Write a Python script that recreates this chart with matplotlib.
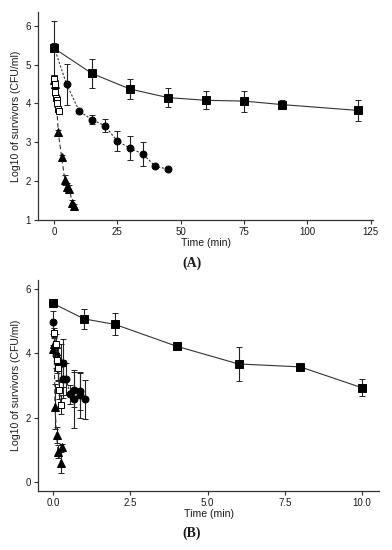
import matplotlib

matplotlib.use("Agg")
import matplotlib.pyplot as plt


# panel A (time in min)
sq_a_t = [0, 15, 30, 45, 60, 75, 90, 120]
sq_a_y = [5.42, 4.77, 4.37, 4.15, 4.08, 4.06, 3.97, 3.82]
sq_a_err = [0.7, 0.38, 0.25, 0.25, 0.23, 0.27, 0.12, 0.28]

ci_a_t = [0, 5, 10, 15, 20, 25, 30, 35, 40, 45]
ci_a_y = [5.45, 4.49, 3.80, 3.58, 3.43, 3.03, 2.85, 2.70, 2.38, 2.31]
ci_a_err = [0.1, 0.52, 0.04, 0.12, 0.16, 0.25, 0.30, 0.31, 0.03, 0.03]

tr_a_t = [0, 0.5, 1.7, 3.0, 4.3, 5.3, 6.1, 7.2, 7.9]
tr_a_y = [4.6, 4.5, 3.26, 2.62, 2.03, 1.84, 1.81, 1.43, 1.36]
tr_a_err = [0.1, 0.1, 0.05, 0.05, 0.12, 0.1, 0.1, 0.08, 0.05]

os_a_t = [0, 0.25, 0.5, 0.75, 1.0, 1.25, 1.5, 2.0]
os_a_y = [4.62, 4.5, 4.3, 4.15, 4.1, 4.0, 3.85, 3.8]
os_a_err = [0.1, 0.1, 0.12, 0.1, 0.1, 0.1, 0.08, 0.08]

# panel B
sq_b_t = [0, 1, 2, 4, 6, 8, 10]
sq_b_y = [5.55, 5.07, 4.90, 4.22, 3.67, 3.58, 2.93]
sq_b_err = [0.03, 0.30, 0.34, 0.03, 0.54, 0.03, 0.27]

ci_b_t = [0, 0.08, 0.17, 0.25, 0.33, 0.33, 0.42, 0.55, 0.69, 0.69, 0.87, 0.87, 1.03]
ci_b_y = [4.97, 3.94, 3.68, 3.70, 3.70, 3.20, 3.20, 2.73, 2.87, 2.57, 2.83, 2.70, 2.57]
ci_b_err = [0.36, 0.4, 0.5, 0.6, 0.75, 0.6, 0.5, 0.3, 0.55, 0.9, 0.6, 0.7, 0.6]

tr_b_t = [0, 0.03, 0.06, 0.11, 0.16, 0.24, 0.29]
tr_b_y = [4.15, 4.30, 2.34, 1.46, 0.94, 0.60, 1.10]
tr_b_err = [0.1, 0.2, 0.7, 0.25, 0.2, 0.33, 0.1]

os_b_t = [0.03, 0.08, 0.12, 0.17, 0.20, 0.25]
os_b_y = [4.63, 4.30, 3.80, 3.55, 2.87, 2.41]
os_b_err = [0.15, 0.3, 0.4, 0.4, 0.3, 0.3]

a_xticks = [0, 25, 50, 75, 100, 125]
a_yticks = [1, 2, 3, 4, 5, 6]
b_xticks = [0.0, 2.5, 5.0, 7.5, 10.0]
b_yticks = [0, 2, 4, 6]

TXT = "#1a1a1a"


def draw_series(ax, t, y, err, marker, ls, mfc="black", ms=5.5):
    ax.errorbar(
        t, y, yerr=err,
        color="#333333", ecolor="#222222",
        linestyle=ls, linewidth=0.8,
        marker=marker, markersize=ms,
        markerfacecolor=mfc, markeredgecolor="black", markeredgewidth=0.7,
        elinewidth=0.8, capsize=2, capthick=0.8,
    )


def style_axes(ax, xticks, yticks, xlim, ylim, fmt):
    ax.set_xlim(*xlim)
    ax.set_ylim(*ylim)
    ax.set_xticks(xticks)
    ax.set_yticks(yticks)
    ax.set_xticklabels([fmt.format(v) for v in xticks])
    for side in ("top", "right"):
        ax.spines[side].set_visible(False)
    for side in ("left", "bottom"):
        ax.spines[side].set_color("#333333")
        ax.spines[side].set_linewidth(0.9)
    ax.tick_params(direction="out", length=3, width=0.8, colors="#333333",
                   labelsize=7, labelcolor=TXT, pad=2)
    ax.set_xlabel("Time (min)", fontsize=7.6, color=TXT, labelpad=1)
    ax.set_ylabel("Log10 of survivors (CFU/ml)", fontsize=7.6, color=TXT, labelpad=3)


def main():
    plt.rcParams["font.family"] = ["Liberation Sans", "DejaVu Sans"]
    fig = plt.figure(figsize=(3.92, 5.5), dpi=100)

    ax_a = fig.add_axes([0.097, 0.60, 0.855, 0.378])
    draw_series(ax_a, sq_a_t, sq_a_y, sq_a_err, "s", "-")
    draw_series(ax_a, ci_a_t, ci_a_y, ci_a_err, "o", (0, (2, 1.5)), ms=5)
    draw_series(ax_a, tr_a_t, tr_a_y, tr_a_err, "^", (0, (4, 2.5)), ms=5.5)
    draw_series(ax_a, os_a_t, os_a_y, os_a_err, "s", (0, (3, 2)), mfc="white", ms=4)
    style_axes(ax_a, a_xticks, a_yticks, (-6.3, 126), (1, 6.35), "{:g}")

    ax_b = fig.add_axes([0.097, 0.107, 0.87, 0.384])
    draw_series(ax_b, sq_b_t, sq_b_y, sq_b_err, "s", "-")
    draw_series(ax_b, ci_b_t, ci_b_y, ci_b_err, "o", (0, (2, 1.5)), ms=5)
    draw_series(ax_b, tr_b_t, tr_b_y, tr_b_err, "^", (0, (4, 2.5)), ms=5.5)
    draw_series(ax_b, os_b_t, os_b_y, os_b_err, "s", (0, (3, 2)), mfc="white", ms=4)
    style_axes(ax_b, b_xticks, b_yticks, (-0.49, 10.55), (-0.28, 6.28), "{:.1f}")

    fig.text(0.49, 1 - 263 / 550, "(A)", ha="center", va="center",
             fontsize=10, fontweight="bold", family="Liberation Serif", color=TXT)
    fig.text(0.49, 1 - 533 / 550, "(B)", ha="center", va="center",
             fontsize=10, fontweight="bold", family="Liberation Serif", color=TXT)

    fig.savefig("out.png", dpi=100)
    plt.close(fig)


if __name__ == "__main__":
    main()
